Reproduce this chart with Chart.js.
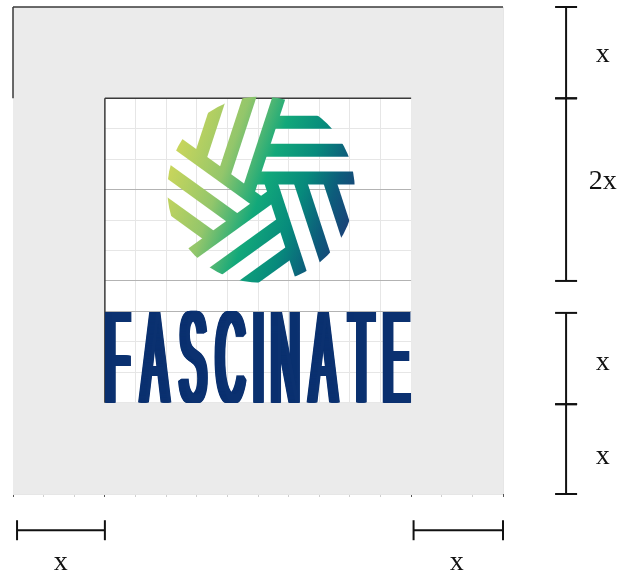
<!DOCTYPE html>
<html>
<head>
<meta charset="utf-8">
<script src="https://cdn.jsdelivr.net/npm/chart.js@4.4.0/dist/chart.umd.min.js"></script>
<style>
  html, body { margin: 0; padding: 0; background: #fff; }
  #marco { width: 623px; height: 577px; }
</style>
</head>
<body>
<div id="marco"><canvas id="grafico"></canvas></div>
<script>
// Medidas del diagrama, en unidades "x" (margen de protección del logo)
const marcas = [0, 1, 2, 3, 4, 5, 6, 7, 8, 9, 10, 11, 12, 13, 14, 15, 16].map(k => k / 3);
const cajaGris = [0, 16 / 3];           // zona de protección (x e y)
const cajaLogo = [1, 13 / 3];           // logo completo
const lineasOscuras = [2, 3, 10 / 3];   // guías horizontales más marcadas
const marcasOscuras = [0, 1, 13 / 3, 16 / 3];

// Símbolo: cinco brazos con ramas paralelas
const centro = { x: 2.7, y: 2.0 };
const radio = 1.02;
const angulosBrazo = [0, 72, 144, 216, 288];
const desplazBrazo = 0.126;
const pasoRamas = [0, 0.306, 0.612];
const coloresLogo = [[0, '#cbd65b'], [0.28, '#93c66b'], [0.5, '#12a87a'], [0.7, '#078a7c'], [0.86, '#0d5c7b'], [1, '#1b4078']];

// Marca de texto
const letras = ['F', 'A', 'S', 'C', 'I', 'N', 'A', 'T', 'E'];

// Cotas de la derecha y de abajo
const cotasV = [[0, 1], [1, 3], [3.35, 4.35], [4.35, 16 / 3]];
const etiquetasV = [['x', 0.6], ['2x', 1.99], ['x', 3.97], ['x', 5.0]];
const cotasH = [[0.044, 1.0], [4.36, 16 / 3]];
const etiquetasH = [['x', 0.52], ['x', 4.83]];

function puntoBrazo(ang, s, d) {
  const a = ang * Math.PI / 180;
  const ux = Math.cos(a), uy = Math.sin(a);
  return { x: centro.x + s * ux - d * uy, y: centro.y - (s * uy + d * ux) };
}

// cada rama empieza en el eje del brazo vecino
function inicioRama(d) {
  const c = Math.cos(72 * Math.PI / 180), sn = Math.sin(72 * Math.PI / 180);
  return (d - desplazBrazo * c) * c / sn - desplazBrazo * sn;
}

function degradado(c) {
  const { x, y } = c.chart.scales;
  if (!x || !y) return '#12a87a';
  const x0 = x.getPixelForValue(centro.x - 0.99), y0 = y.getPixelForValue(centro.y - 0.32);
  const x1 = x.getPixelForValue(centro.x + 0.98), y1 = y.getPixelForValue(centro.y + 0.39);
  if (![x0, y0, x1, y1].every(Number.isFinite)) return '#12a87a';
  const g = c.chart.ctx.createLinearGradient(x0, y0, x1, y1);
  coloresLogo.forEach(([p, col]) => g.addColorStop(p, col));
  return g;
}

const conjuntos = [];
angulosBrazo.forEach(ang => {
  pasoRamas.forEach(p => {
    const d = desplazBrazo + p;
    conjuntos.push({
      logo: true,
      data: [puntoBrazo(ang, inicioRama(d), d), puntoBrazo(ang, 1.3, d)],
      showLine: true, pointRadius: 0, borderWidth: 13, borderCapStyle: 'butt',
      borderColor: degradado
    });
  });
});

// bordes de las cajas
const bordes = [
  [[0, 0], [16 / 3, 0]],
  [[0, 0], [0, 1]],
  [[1, 1], [13 / 3, 1]],
  [[1, 1], [1, 13 / 3]]
];
bordes.forEach(b => {
  conjuntos.push({
    data: b.map(([x, y]) => ({ x, y })),
    showLine: true, pointRadius: 0, borderWidth: 1.5, borderColor: '#3a3a3a', clip: false
  });
});

const esCerca = (v, lista) => lista.some(w => Math.abs(v - w) < 1e-6);

const fondoPlugin = {
  id: 'fondo',
  beforeDatasetsDraw(chart) {
    const { ctx, chartArea: a, scales: { x, y } } = chart;
    const l = x.getPixelForValue(cajaLogo[0]), r = x.getPixelForValue(cajaLogo[1]);
    const t = y.getPixelForValue(cajaLogo[0]), b = y.getPixelForValue(cajaLogo[1]);
    ctx.save();
    ctx.beginPath();
    ctx.rect(a.left, a.top, a.width, a.height);
    ctx.rect(l, t, r - l, b - t);
    ctx.fillStyle = '#ebebeb';
    ctx.fill('evenodd');
    ctx.restore();
  }
};

const recortePlugin = {
  id: 'recorte',
  beforeDatasetDraw(chart, args) {
    if (!chart.data.datasets[args.index].logo) return;
    const { ctx, scales: { x, y } } = chart;
    const cx = x.getPixelForValue(centro.x), cy = y.getPixelForValue(centro.y);
    const rx = Math.abs(x.getPixelForValue(centro.x + radio) - cx);
    const ry = Math.abs(y.getPixelForValue(centro.y + radio) - cy);
    ctx.save();
    ctx.beginPath();
    ctx.ellipse(cx, cy, rx, ry, 0, 0, Math.PI * 2);
    ctx.clip();
  },
  afterDatasetDraw(chart, args) {
    if (chart.data.datasets[args.index].logo) chart.ctx.restore();
  }
};

// letras estrechas, una a una, con trazo vertical engrosado
const textoPlugin = {
  id: 'texto',
  afterDatasetsDraw(chart) {
    const { ctx, scales: { x, y } } = chart;
    const l = x.getPixelForValue(cajaLogo[0]), r = x.getPixelForValue(cajaLogo[1]);
    const t = y.getPixelForValue(10 / 3) + 1, b = y.getPixelForValue(cajaLogo[1]);
    const grosor = 7, hueco = 6.5;
    ctx.save();
    ctx.font = '400 200px "Liberation Sans", "DejaVu Sans", sans-serif';
    const medidas = letras.map(c => ctx.measureText(c));
    const alto = ctx.measureText('F').actualBoundingBoxAscent;
    const tinta = medidas.reduce((s, m) => s + m.actualBoundingBoxLeft + m.actualBoundingBoxRight, 0);
    const sx = (r - l - grosor * letras.length - hueco * (letras.length - 1)) / tinta;
    const sy = (b - t) / alto;
    ctx.beginPath();
    ctx.rect(l, t - 2, r - l, b - t + 2);
    ctx.clip();
    ctx.fillStyle = '#0b3170';
    let px = l;
    letras.forEach((c, i) => {
      const m = medidas[i];
      const w = (m.actualBoundingBoxLeft + m.actualBoundingBoxRight) * sx;
      ctx.save();
      ctx.translate(px + m.actualBoundingBoxLeft * sx, b);
      ctx.scale(sx, sy);
      for (let k = 0; k <= grosor; k += 0.5) ctx.fillText(c, k / sx, 0);
      ctx.restore();
      px += w + grosor + hueco;
    });
    ctx.restore();
  }
};

const cotasPlugin = {
  id: 'cotas',
  afterDraw(chart) {
    const { ctx, scales: { x, y } } = chart;
    ctx.save();
    ctx.strokeStyle = '#111';
    ctx.lineWidth = 2;
    ctx.fillStyle = '#111';
    ctx.font = '28px "Liberation Serif", "DejaVu Serif", serif';
    ctx.textAlign = 'center';
    ctx.textBaseline = 'alphabetic';
    const linea = (x1, y1, x2, y2) => { ctx.beginPath(); ctx.moveTo(x1, y1); ctx.lineTo(x2, y2); ctx.stroke(); };
    const px = x.getPixelForValue(6.02);
    cotasV.forEach(([a, b]) => {
      const pa = y.getPixelForValue(a), pb = y.getPixelForValue(b);
      linea(px, pa, px, pb);
      linea(px - 11, pa, px + 11, pa);
      linea(px - 11, pb, px + 11, pb);
    });
    etiquetasV.forEach(([txt, v]) => ctx.fillText(txt, x.getPixelForValue(6.42), y.getPixelForValue(v)));
    const py = y.getPixelForValue(5.73);
    cotasH.forEach(([a, b]) => {
      const pa = x.getPixelForValue(a), pb = x.getPixelForValue(b);
      linea(pa, py, pb, py);
      linea(pa, py - 10, pa, py + 10);
      linea(pb, py - 10, pb, py + 10);
    });
    etiquetasH.forEach(([txt, v]) => ctx.fillText(txt, x.getPixelForValue(v), y.getPixelForValue(6.17)));
    ctx.restore();
  }
};

const ctx = document.getElementById('grafico').getContext('2d');
const diagrama = new Chart(ctx, {
  type: 'scatter',
  data: { datasets: conjuntos },
  options: {
    responsive: true,
    maintainAspectRatio: false,
    animation: false,
    events: [],
    layout: { padding: { left: 13, top: 7, right: 120, bottom: 80 } },
    plugins: { legend: { display: false }, tooltip: { enabled: false } },
    scales: {
      x: {
        type: 'linear', min: cajaGris[0], max: cajaGris[1],
        afterBuildTicks: s => { s.ticks = marcas.map(v => ({ value: v })); },
        ticks: { display: false },
        border: { display: false },
        grid: {
          color: '#e6e6e6',
          tickColor: c => esCerca(c.tick.value, marcasOscuras) ? '#555' : '#cfcfcf',
          tickLength: 3
        }
      },
      y: {
        type: 'linear', reverse: true, min: cajaGris[0], max: cajaGris[1],
        afterBuildTicks: s => { s.ticks = marcas.map(v => ({ value: v })); },
        ticks: { display: false },
        border: { display: false },
        grid: {
          color: c => esCerca(c.tick.value, lineasOscuras) ? '#b3b3b3' : '#e6e6e6',
          drawTicks: false
        }
      }
    }
  },
  plugins: [fondoPlugin, recortePlugin, textoPlugin, cotasPlugin]
});
diagrama.update();
</script>
</body>
</html>
